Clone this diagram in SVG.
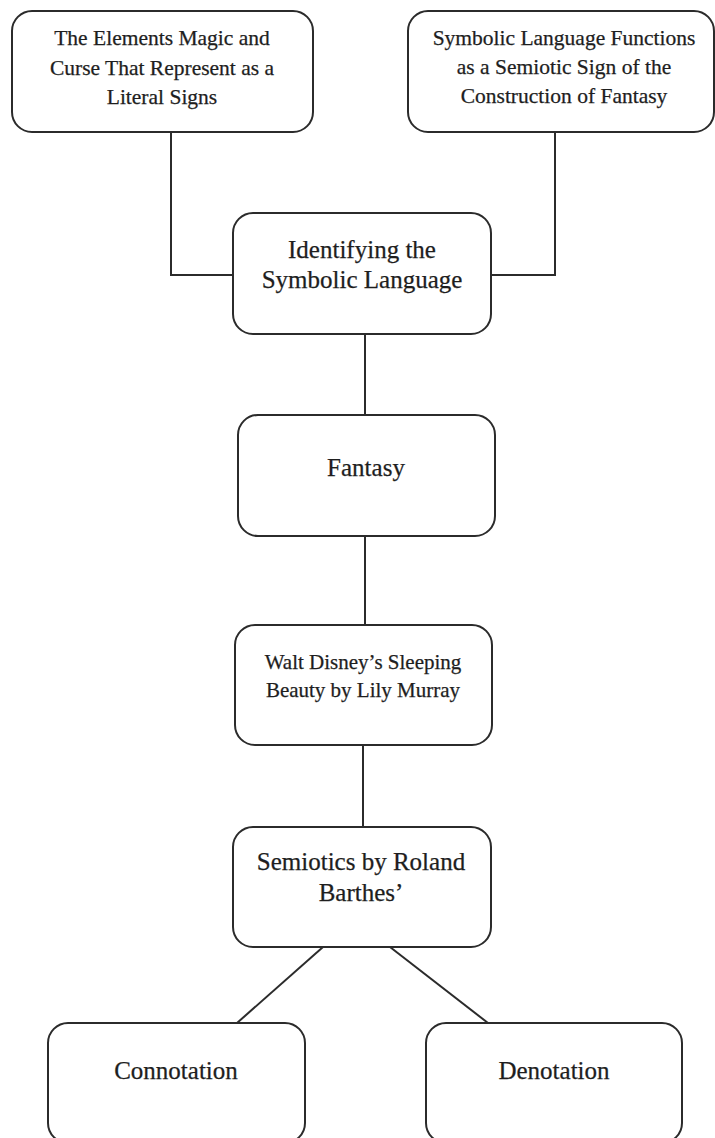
<svg xmlns="http://www.w3.org/2000/svg" width="715" height="1138" viewBox="0 0 715 1138">
<style>
.box{fill:#fff;stroke:#2b2b2b;stroke-width:2}
.ln{fill:none;stroke:#2b2b2b;stroke-width:2}
text{font-family:"Liberation Serif","Times New Roman",serif;fill:#1e1e1e;text-anchor:middle;stroke:#1e1e1e;stroke-width:0.25}
.s{font-size:21.5px}
.m{font-size:21px}
.l{font-size:25px}
</style>
<rect width="715" height="1138" fill="#fff"/>
<g id="connectors">
<polyline class="ln" points="171,132 171,275 233,275"/>
<polyline class="ln" points="555,132 555,275 491,275"/>
<line class="ln" x1="365" y1="334" x2="365" y2="415"/>
<line class="ln" x1="365" y1="536" x2="365" y2="625"/>
<line class="ln" x1="363" y1="745" x2="363" y2="827"/>
<line class="ln" x1="323" y1="947" x2="237" y2="1023"/>
<line class="ln" x1="390" y1="947" x2="488" y2="1023"/>
</g>
<g id="node-elements">
<rect class="box" x="12" y="11" width="301" height="121" rx="20"/>
<text class="s" x="162" y="45">The Elements Magic and</text>
<text class="s" x="162" y="75">Curse That Represent as a</text>
<text class="s" x="162" y="104">Literal Signs</text>
</g>
<g id="node-functions">
<rect class="box" x="408" y="11" width="306" height="121" rx="20"/>
<text class="s" x="564" y="45">Symbolic Language Functions</text>
<text class="s" x="564" y="74">as a Semiotic Sign of the</text>
<text class="s" x="564" y="103">Construction of Fantasy</text>
</g>
<g id="node-identifying">
<rect class="box" x="233" y="213" width="258" height="121" rx="20"/>
<text class="l" x="362" y="258">Identifying the</text>
<text class="l" x="362" y="288">Symbolic Language</text>
</g>
<g id="node-fantasy">
<rect class="box" x="238" y="415" width="257" height="121" rx="20"/>
<text class="l" x="366" y="476">Fantasy</text>
</g>
<g id="node-disney">
<rect class="box" x="235" y="625" width="257" height="120" rx="20"/>
<text class="m" x="363" y="669">Walt Disney’s Sleeping</text>
<text class="m" x="363" y="697">Beauty by Lily Murray</text>
</g>
<g id="node-semiotics">
<rect class="box" x="233" y="827" width="258" height="120" rx="20"/>
<text class="l" x="361" y="870">Semiotics by Roland</text>
<text class="l" x="361" y="901">Barthes’</text>
</g>
<g id="node-connotation">
<rect class="box" x="48" y="1023" width="257" height="120" rx="20"/>
<text class="l" x="176" y="1079">Connotation</text>
</g>
<g id="node-denotation">
<rect class="box" x="426" y="1023" width="256" height="120" rx="20"/>
<text class="l" x="554" y="1079">Denotation</text>
</g>
</svg>
